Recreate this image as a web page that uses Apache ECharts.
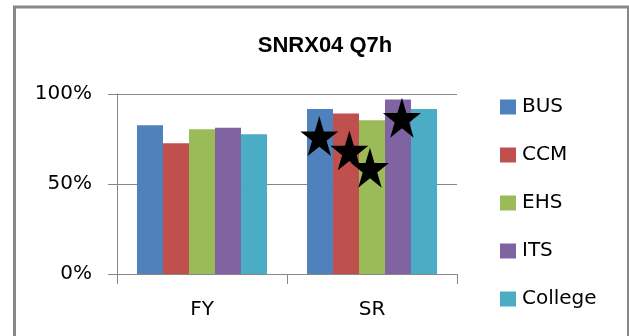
<!DOCTYPE html>
<html>
<head>
<meta charset="utf-8">
<style>
  html, body { margin: 0; padding: 0; background: #fff; }
  #chart { width: 629px; height: 336px; }
</style>
<script src="https://cdn.jsdelivr.net/npm/echarts@6/dist/echarts.min.js"></script>
</head>
<body>
<div id="chart"></div>
<script>
// Survey groups on the category axis
const categories = ['FY', 'SR'];

// Share of positive responses per college, per group
const seriesNames = ['BUS', 'CCM', 'EHS', 'ITS', 'College'];
const BUS = [0.826, 0.917];
const CCM = [0.726, 0.891];
const EHS = [0.804, 0.854];
const ITS = [0.813, 0.969];
const College = [0.776, 0.917];
const seriesValues = [BUS, CCM, EHS, ITS, College];

// Star markers: position along the group axis (0..2 spans both groups) and value
const starX = [1.19, 1.367, 1.488, 1.676];
const starY = [0.766, 0.686, 0.59, 0.868];

// Value axis ticks
const yTicks = [0, 0.5, 1];
const yTickLabels = ['0%', '50%', '100%'];

const colors = ['#4F81BD', '#C0504D', '#9BBB59', '#8064A2', '#4BACC6'];
const axisGray = '#878787';
const labelFont = 'DejaVu Sans';

const starPath = 'path://M50 0 L61.23 34.55 L97.55 34.55 L68.16 55.9 L79.39 90.45 L50 69.1 L20.61 90.45 L31.84 55.9 L2.45 34.55 L38.77 34.55 Z';

const chart = echarts.init(document.getElementById('chart'), null, { renderer: 'canvas' });

const barSeries = seriesNames.map((name, i) => ({
  name: name,
  type: 'bar',
  data: seriesValues[i],
  xAxisIndex: 0,
  yAxisIndex: 0,
  barGap: '0%',
  barCategoryGap: '23.5%',
  itemStyle: { color: colors[i] },
  emphasis: { disabled: true },
  z: 2
}));

const option = {
  animation: false,
  backgroundColor: '#fff',
  title: {
    text: 'SNRX04 Q7h',
    left: 320,
    textAlign: 'center',
    top: 30,
    textStyle: {
      fontFamily: 'Liberation Sans',
      fontWeight: 'bold',
      fontSize: 22,
      color: '#000'
    }
  },
  legend: {
    data: seriesNames,
    orient: 'vertical',
    left: 500,
    top: 97,
    itemWidth: 16,
    itemHeight: 15,
    itemGap: 28,
    padding: 0,
    icon: 'rect',
    selectedMode: false,
    textStyle: { fontFamily: labelFont, fontSize: 20, color: '#000', padding: [0, 0, 0, 1] }
  },
  grid: { left: 117, right: 172, top: 94, bottom: 62, containLabel: false },
  xAxis: [
    {
      type: 'category',
      data: categories,
      boundaryGap: true,
      axisLine: { lineStyle: { color: axisGray, width: 1 } },
      axisTick: { show: true, length: 10, lineStyle: { color: axisGray } },
      axisLabel: { margin: 26, fontFamily: labelFont, fontSize: 20, color: '#000' },
      splitLine: { show: false }
    },
    {
      type: 'value',
      min: 0,
      max: 2,
      show: false
    }
  ],
  yAxis: {
    type: 'value',
    min: 0,
    max: 1,
    interval: 0.5,
    axisLine: { show: true, lineStyle: { color: axisGray, width: 1 } },
    axisTick: { show: true, length: 9, lineStyle: { color: axisGray } },
    axisLabel: {
      margin: 25,
      fontFamily: labelFont,
      fontSize: 20,
      color: '#000',
      formatter: v => yTickLabels[yTicks.indexOf(v)]
    },
    splitLine: { show: true, lineStyle: { color: axisGray, width: 1 } }
  },
  series: barSeries.concat([{
    name: 'stars',
    type: 'scatter',
    xAxisIndex: 1,
    yAxisIndex: 0,
    data: starX.map((x, i) => [x, starY[i]]),
    symbol: starPath,
    symbolSize: [38, 40],
    itemStyle: { color: '#000', opacity: 1 },
    emphasis: { disabled: true },
    z: 5
  }]),
  graphic: [{
    type: 'rect',
    shape: { x: 14.5, y: 7, width: 614, height: 400 },
    style: { fill: null, stroke: '#888888', lineWidth: 3 },
    silent: true,
    z: 100
  }]
};

chart.setOption(option);
</script>
</body>
</html>
